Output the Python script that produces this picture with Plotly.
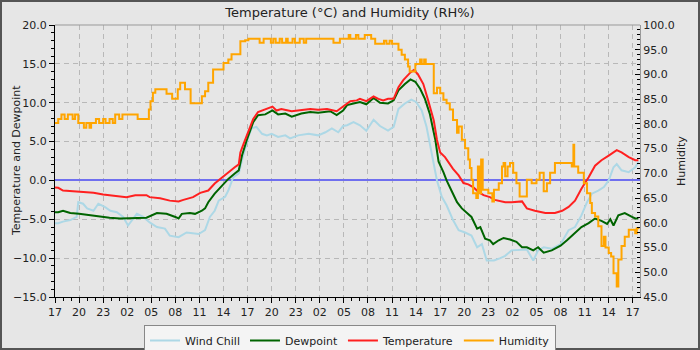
import pandas as pd
import plotly.graph_objects as go

START = pd.Timestamp("2024-01-01 17:00")

temp_hours = [0.0, 0.4, 1.0, 2.7, 3.5, 4.8, 6.0, 7.7, 8.9, 10.0, 11.4, 11.8, 13.1, 14.3, 15.4, 16.0,
              17.2, 18.1, 18.7, 19.1, 19.9, 20.8, 21.6, 22.4, 22.9, 23.1, 23.5, 24.1, 24.7, 25.3,
              26.2, 27.1, 27.6, 28.2, 29.5, 30.7, 31.8, 32.8, 33.9, 35.1, 35.7, 36.1, 36.8, 37.6,
              38.0, 38.8, 39.7, 40.3, 40.9, 41.5, 42.2, 42.8, 43.4, 44.3, 44.7, 45.2, 45.9, 46.5,
              47.2, 47.6, 48.0, 48.6, 49.0, 49.6, 50.3, 50.9, 51.5, 52.1, 52.8, 53.4, 54.2, 54.8,
              56.1, 56.9, 58.2, 58.8, 59.8, 61.1, 62.3, 63.2, 64.0, 64.8, 65.6, 66.5, 67.3, 68.1,
              69.0, 69.6, 70.0, 70.6, 71.5, 72.3, 72.7]
temp_values = [-0.9, -0.95, -1.3, -1.4, -1.45, -1.6, -1.8, -2.0, -2.15, -1.9, -1.9, -2.15, -2.3, -2.6, -2.7, -2.5,
               -2.15, -1.6, -1.4, -1.3, -0.4, 0.4, 1.07, 1.7, 2.06, 3.6, 4.7, 6.4, 7.9, 8.8,
               9.1, 9.5, 9.0, 9.2, 8.9, 9.1, 9.2, 9.1, 9.2, 8.9, 9.4, 9.7, 10.2, 10.3,
               10.5, 10.2, 10.8, 10.5, 10.3, 10.5, 10.5, 12.0, 12.9, 13.9, 14.2, 13.7, 12.4, 10.3,
               7.7, 5.2, 3.6, 3.0, 2.4, 1.5, 0.64, -0.34, -0.5, -0.86, -1.5, -1.9, -2.15, -2.5,
               -2.8, -2.8, -2.7, -3.6, -3.9, -4.2, -4.2, -3.9, -3.4, -2.6, -1.07, 0.4, 1.9, 2.6,
               3.2, 3.6, 3.9, 3.6, 3.0, 2.6, 2.6]

dew_hours = [0.0, 0.4, 1.0, 1.9, 3.0, 4.3, 5.5, 6.8, 8.1, 9.8, 11.4, 12.7, 13.9, 15.0, 15.4, 15.8,
             16.8, 17.45, 18.3, 18.7, 19.1, 19.9, 20.8, 21.6, 22.4, 22.9, 23.3, 23.9, 24.7, 25.3,
             26.2, 27.1, 27.8, 28.7, 29.5, 30.7, 31.8, 32.8, 34.3, 35.1, 35.9, 36.4, 37.2, 38.0,
             38.8, 39.7, 40.5, 41.5, 42.2, 42.8, 43.6, 44.3, 44.9, 45.5, 46.1, 46.7, 47.4, 47.8,
             48.4, 48.8, 49.4, 50.1, 50.7, 51.3, 51.9, 52.6, 53.0, 53.6, 54.2, 54.6, 55.3, 55.9,
             56.7, 57.5, 58.2, 58.8, 59.6, 60.2, 60.9, 61.9, 63.0, 63.8, 64.6, 65.6, 66.5, 67.3,
             68.1, 68.8, 69.2, 69.6, 70.2, 71.0, 71.9, 72.3, 72.7]
dew_values = [-4.1, -4.1, -3.9, -4.2, -4.3, -4.5, -4.6, -4.8, -4.9, -4.8, -4.8, -4.2, -4.3, -4.7, -4.9, -4.3,
              -4.2, -4.3, -3.9, -3.6, -2.8, -1.7, -0.64, 0.2, 0.9, 1.3, 3.2, 5.2, 7.5, 8.4,
              8.5, 9.0, 8.5, 8.6, 8.2, 8.6, 8.8, 8.7, 8.9, 8.4, 9.0, 9.7, 9.9, 10.1,
              9.8, 10.6, 10.0, 9.9, 10.3, 11.6, 12.4, 13.0, 12.7, 11.8, 10.5, 8.6, 5.2, 2.4,
              1.07, 0.0, -1.3, -2.8, -3.6, -4.2, -4.7, -6.2, -6.0, -7.5, -7.7, -8.2, -7.7, -7.4,
              -7.6, -7.9, -8.6, -8.6, -9.0, -8.6, -9.3, -9.0, -8.4, -7.7, -6.9, -6.0, -5.5, -4.9,
              -5.2, -5.6, -5.0, -5.8, -4.5, -4.2, -4.7, -4.9, -4.9]

chill_hours = [0.0, 0.4, 1.0, 1.9, 2.7, 2.9, 3.5, 4.0, 4.8, 5.4, 6.2, 6.9, 7.7, 8.5, 9.1, 10.2,
               11.0, 11.8, 12.7, 13.7, 14.3, 15.4, 16.4, 17.6, 17.9, 18.7, 19.3, 19.9, 20.4, 21.2,
               21.6, 22.2, 22.9, 23.3, 23.7, 24.1, 24.5, 25.1, 25.8, 26.4, 27.0, 27.8, 28.7, 29.3,
               30.3, 31.6, 32.8, 33.7, 34.5, 35.3, 35.9, 36.4, 37.2, 38.0, 38.8, 39.7, 40.5, 41.5,
               42.2, 42.8, 43.6, 44.4, 45.0, 45.7, 46.3, 46.7, 47.2, 47.6, 48.2, 48.8, 49.6, 50.3,
               51.1, 51.9, 52.6, 53.2, 53.8, 54.7, 55.5, 56.1, 56.9, 57.9, 58.8, 59.6, 60.2, 60.9,
               61.9, 63.0, 64.0, 64.8, 65.6, 66.3, 66.9, 67.7, 68.4, 69.0, 69.6, 70.0, 70.6, 71.5,
               72.3, 72.7]
chill_values = [-5.5, -5.5, -5.3, -5.1, -4.7, -2.8, -3.0, -3.6, -3.9, -3.0, -3.4, -3.9, -4.1, -4.7, -5.8, -4.3,
                -4.7, -5.4, -6.0, -6.2, -7.1, -7.3, -6.7, -6.9, -6.9, -6.4, -4.7, -3.9, -2.6, -2.1,
                -1.3, 0.4, 0.9, 2.6, 4.3, 5.6, 6.7, 6.9, 6.0, 5.8, 6.0, 5.6, 5.8, 5.4,
                5.8, 6.0, 5.8, 6.2, 6.7, 6.2, 7.0, 7.1, 7.5, 7.1, 6.4, 7.8, 7.0, 6.4,
                6.9, 9.2, 9.9, 10.4, 10.1, 9.0, 6.9, 4.7, 2.4, 0.0, -2.1, -3.2, -5.1, -6.4,
                -6.7, -7.1, -8.6, -8.2, -10.3, -10.3, -10.0, -9.7, -9.0, -8.9, -8.9, -10.3, -9.0, -8.6,
                -8.8, -8.2, -6.4, -6.0, -4.5, -2.8, -1.7, -1.3, -0.86, 0.0, 1.7, 2.1, 1.3, 1.07,
                1.7, 2.4]

hum_hours = [0.0, 0.4, 0.8, 1.2, 1.6, 2.2, 2.5, 2.9, 3.6, 3.9, 4.3, 4.5, 5.1, 5.5, 6.0, 6.3,
             6.8, 7.2, 7.5, 8.0, 8.4, 9.0, 10.3, 11.0, 11.4, 11.7, 11.9, 12.2, 12.5, 13.9,
             14.6, 15.3, 15.6, 16.2, 16.9, 18.3, 18.7, 19.1, 19.7, 21.0, 21.6, 22.0, 23.1, 23.7,
             24.1, 25.5, 26.0, 26.9, 27.2, 27.5, 28.0, 28.3, 28.8, 29.0, 29.6, 29.9, 30.5, 31.0,
             31.3, 34.7, 35.5, 36.6, 36.8, 37.5, 37.8, 38.6, 39.4, 39.9, 41.0, 41.3, 41.7, 42.0,
             42.8, 43.2, 43.6, 44.0, 44.2, 44.9, 45.5, 45.7, 46.0, 46.2, 47.2, 47.6, 48.0, 48.4,
             48.8, 49.2, 49.6, 50.1, 50.3, 50.7, 51.1, 51.5, 51.7, 51.9, 52.1, 52.5, 52.7, 52.9,
             53.1, 53.3, 54.0, 54.5, 54.7, 55.3, 55.7, 55.9, 56.1, 56.4, 56.7, 57.1, 57.5, 57.9,
             58.4, 58.8, 59.4, 60.0, 60.4, 60.9, 61.3, 61.7, 62.3, 64.2, 64.4, 64.6, 64.7, 65.2,
             65.9, 66.3, 66.7, 66.9, 67.3, 67.7, 68.1, 68.4, 68.6, 69.0, 69.3, 69.6, 70.0, 70.2,
             70.6, 71.0, 71.5, 71.9, 72.3, 72.5, 72.7]
hum_values = [80.2, 81.0, 81.9, 81.0, 81.9, 81.0, 81.9, 80.2, 79.2, 80.2, 79.2, 80.2, 81.0, 80.2, 81.0, 80.2,
              81.0, 80.2, 81.9, 81.0, 81.9, 81.9, 81.0, 81.0, 81.0, 82.9, 84.6, 86.3, 87.0, 86.1,
              85.1, 87.0, 88.3, 87.0, 84.2, 85.6, 86.6, 88.3, 91.0, 92.3, 93.0, 94.1, 96.7, 96.9,
              97.2, 96.4, 97.2, 96.4, 97.2, 96.4, 97.2, 96.4, 97.2, 96.4, 97.2, 96.4, 97.2, 96.4,
              97.2, 96.4, 97.2, 98.0, 97.2, 98.0, 97.2, 98.0, 97.2, 96.2, 96.8, 96.2, 96.8, 96.2,
              95.0, 94.0, 93.0, 91.6, 90.6, 92.1, 93.0, 92.1, 93.0, 92.1, 86.2, 87.3, 86.2, 84.9,
              84.2, 82.9, 80.8, 78.2, 79.5, 76.8, 75.1, 72.8, 71.1, 68.7, 66.0, 65.0, 71.4, 66.0,
              72.8, 66.7, 66.0, 64.3, 66.7, 68.0, 71.4, 72.1, 69.4, 71.4, 72.1, 70.1, 68.0, 65.3,
              65.3, 68.7, 68.0, 68.7, 70.1, 66.4, 68.0, 70.1, 72.1, 72.1, 71.4, 75.8, 71.4, 70.1,
              68.0, 66.0, 64.0, 62.0, 61.3, 59.3, 55.3, 57.2, 55.0, 53.9, 53.2, 49.8, 47.1, 52.6,
              55.3, 57.2, 58.6, 58.6, 57.9, 58.9, 59.0]

X_END_HOURS = 72.9
TICK_HOURS = 3

def to_time(hours):
    return START + pd.to_timedelta(hours, unit="h")

BG = "#e6e6e6"
FONT = "DejaVu Sans"

fig = go.Figure()
fig.add_trace(go.Scatter(x=to_time(chill_hours), y=chill_values, name="Wind Chill",
                         mode="lines", line=dict(color="#add8e6", width=2)))
fig.add_trace(go.Scatter(x=to_time(dew_hours), y=dew_values, name="Dewpoint",
                         mode="lines", line=dict(color="#006400", width=2)))
fig.add_trace(go.Scatter(x=to_time(temp_hours), y=temp_values, name="Temperature",
                         mode="lines", line=dict(color="#ff2020", width=2)))
fig.add_trace(go.Scatter(x=to_time(hum_hours), y=hum_values, name="Humidity", yaxis="y2",
                         mode="lines", line=dict(color="#ffa500", width=2, shape="hv")))

L, R, T, B = 55, 60, 25, 53
W, H = 700, 350
pw, ph = W - L - R, H - T - B

fig.update_layout(
    width=W, height=H,
    margin=dict(l=L, r=R, t=T, b=B, autoexpand=False),
    paper_bgcolor=BG, plot_bgcolor=BG,
    font=dict(family=FONT, size=11, color="#222"),
    title=dict(text="Temperature (°C) and Humidity (RH%)", x=0.5, xanchor="center",
               y=1 - 12 / H, yanchor="middle", font=dict(size=13, color="#222")),
    showlegend=True,
    legend=dict(orientation="h", x=(350 - L) / pw, xanchor="center",
                y=-(325 - (T + ph)) / ph, yanchor="top",
                bgcolor="#f4f4f4", bordercolor="#888", borderwidth=1,
                font=dict(size=11), itemwidth=30, tracegroupgap=0),
    xaxis=dict(
        type="date", range=[START, to_time(X_END_HOURS)], automargin=False,
        tick0=START, dtick=TICK_HOURS * 3600000, tickformat="%H",
        ticks="outside", ticklen=5, tickcolor="#000",
        minor=dict(dtick=3600000, ticks="outside", ticklen=3, tickcolor="#000", showgrid=False),
        showline=True, linecolor="#000", linewidth=1,
        showgrid=True, gridcolor="#b8b8b8", griddash="5px,4px", gridwidth=1,
        zeroline=False,
    ),
    yaxis=dict(
        range=[-15, 20], dtick=5, tickformat=".1f", automargin=False,
        ticks="outside", ticklen=5, tickcolor="#000",
        minor=dict(dtick=1, ticks="outside", ticklen=3, tickcolor="#000", showgrid=False),
        showline=True, linecolor="#000", linewidth=1,
        showgrid=True, gridcolor="#b8b8b8", griddash="5px,4px", gridwidth=1,
        zeroline=True, zerolinecolor="#6f6fef", zerolinewidth=2,
    ),
    yaxis2=dict(
        range=[45, 100], dtick=5, tickformat=".1f", side="right", overlaying="y",
        automargin=False,
        ticks="inside", ticklen=5, tickcolor="#000",
        minor=dict(dtick=1, ticks="inside", ticklen=3, tickcolor="#000", showgrid=False),
        showline=True, linecolor="#999", linewidth=1,
        showgrid=False, zeroline=False,
    ),
    annotations=[
        dict(text="Temperature and Dewpoint", textangle=-90, xref="paper", yref="paper",
             x=(16 - L) / pw, y=0.5, xanchor="center", yanchor="middle", showarrow=False,
             font=dict(size=11, color="#222")),
        dict(text="Humidity", textangle=-90, xref="paper", yref="paper",
             x=(681 - L) / pw, y=0.5, xanchor="center", yanchor="middle", showarrow=False,
             font=dict(size=11, color="#222")),
    ],
    shapes=[
        dict(type="line", xref="paper", yref="paper", x0=0, x1=1, y0=1, y1=1,
             line=dict(color="#999", width=1)),
        dict(type="rect", xref="paper", yref="paper",
             x0=(1 - L) / pw, x1=(W - 1 - L) / pw,
             y0=-(H - 1 - T - ph) / ph, y1=(T + ph - 1) / ph,
             line=dict(color="#555", width=2), fillcolor="rgba(0,0,0,0)", layer="above"),
    ],
)

fig.write_html("out.html")
